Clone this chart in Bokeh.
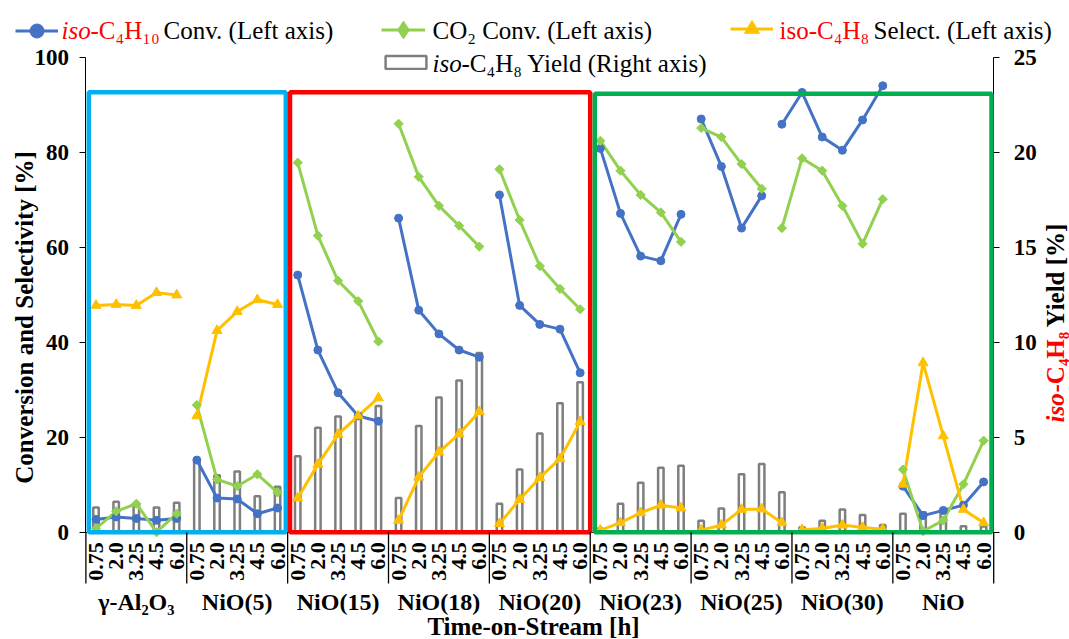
import math
from bokeh.plotting import figure
from bokeh.models import (Range1d, LinearAxis, FixedTicker, Label, BoxAnnotation,
                          Arrow, Legend, LegendItem)
from bokeh.embed import file_html
from bokeh.resources import INLINE

# ---------------- data ----------------
groups = ["γ-Al₂O₃", "NiO(5)", "NiO(15)", "NiO(18)", "NiO(20)",
          "NiO(23)", "NiO(25)", "NiO(30)", "NiO"]
times = ["0.75", "2.0", "3.25", "4.5", "6.0"]

conv_c4h10 = [2.7, 3.2, 2.9, 2.5, 2.9,
              15.2, 7.2, 7.0, 3.9, 5.1,
              54.2, 38.4, 29.4, 24.5, 23.4,
              66.2, 46.8, 41.8, 38.4, 36.9,
              71.1, 47.8, 43.8, 42.8, 33.6,
              80.9, 67.2, 58.2, 57.2, 67.0,
              87.1, 77.1, 64.1, 70.9, 86.0,
              92.7, 83.3, 80.5, 86.9, 94.1,
              9.7, 3.5, 4.6, 5.7, 10.6]
conv_co2 = [0.8, 4.4, 6.0, 0.0, 3.9,
            26.8, 11.1, 9.7, 12.2, 8.4,
            77.9, 62.5, 53.0, 48.7, 40.2,
            86.1, 74.9, 68.8, 64.6, 60.2,
            76.5, 65.8, 56.1, 51.3, 47.0,
            82.5, 76.2, 71.1, 67.4, 61.2,
            85.2, 83.3, 77.6, 72.4, 64.1,
            78.8, 76.2, 68.8, 60.8, 70.2,
            13.2, 0.2, 2.5, 10.1, 19.3]
select_c4h8 = [47.8, 48.0, 47.8, 50.5, 50.0,
               24.5, 42.5, 46.5, 49.0, 48.0,
               7.2, 14.3, 20.6, 24.5, 28.3,
               2.5, 11.6, 16.9, 20.7, 25.4,
               1.8, 6.9, 11.5, 15.5, 23.3,
               0.4, 2.0, 4.1, 5.7, 5.1,
               0.4, 1.5, 4.8, 4.9, 2.0,
               0.5, 0.8, 1.5, 1.0, 0.6,
               10.1, 35.7, 20.3, 4.8, 2.0]
yield_c4h8 = [1.3, 1.6, 1.5, 1.3, 1.55,
              3.75, 3.0, 3.2, 1.9, 2.4,
              4.0, 5.5, 6.1, 6.2, 6.65,
              1.8, 5.6, 7.1, 8.0, 9.45,
              1.5, 3.3, 5.2, 6.8, 7.9,
              0.2, 1.5, 2.6, 3.4, 3.5,
              0.6, 1.25, 3.05, 3.6, 2.1,
              0.26, 0.6, 1.2, 0.9, 0.38,
              0.97, 1.05, 1.1, 0.32, 0.3]

# connected runs of points (start, end) for each line series
conv_runs = [(0, 5), (5, 10), (10, 15), (15, 20), (20, 25), (25, 30), (30, 34), (34, 40), (40, 45)]
select_runs = [(0, 5), (5, 10), (10, 15), (15, 20), (20, 25), (25, 30), (30, 35), (35, 40), (40, 45)]

left_ticks = [0, 20, 40, 60, 80, 100]
right_ticks = [0, 5, 10, 15, 20, 25]
LEFT_MAX, RIGHT_MAX = 100, 25

# ---------------- styling ----------------
FONT = "Liberation Serif"
BLUE, GREEN, YELLOW, GREY, RED = "#4472C4", "#92D050", "#FFC000", "#7F7F7F", "#FF0000"
W, H = 1069, 639
FL, FR, FT, FB = 85.4, 993.2, 57.3, 531.7   # pixel positions of the plotting area edges

n = len(groups) * len(times)
xs = [i + 0.5 for i in range(n)]


def X(px):
    return (px - FL) / (FR - FL) * n


def Y(py):
    return (FB - py) / (FB - FT) * LEFT_MAX


# the frame covers the whole canvas; axes are pinned with fixed_location
p = figure(width=W, height=H, x_range=Range1d(X(0), X(W)), y_range=Range1d(Y(H), Y(0)),
           output_backend="svg", toolbar_location=None, title=None,
           min_border=0, min_border_left=0, min_border_right=0,
           min_border_top=0, min_border_bottom=0)
scale_r = RIGHT_MAX / LEFT_MAX
p.extra_y_ranges = {"yield": Range1d(Y(H) * scale_r, Y(0) * scale_r)}
p.grid.visible = False
p.outline_line_color = None
p.background_fill_color = "white"
p.border_fill_color = "white"

# x axis (time labels)
xa = p.xaxis[0]
xa.fixed_location = 0
xa.bounds = (0, n)
xa.ticker = FixedTicker(ticks=xs, minor_ticks=[])
xa.major_label_overrides = {x: times[i % len(times)] for i, x in enumerate(xs)}
xa.major_label_orientation = math.pi / 2
xa.major_tick_line_color = None
xa.minor_tick_line_color = None
xa.major_label_standoff = 4
xa.major_label_text_font = FONT
xa.major_label_text_font_size = "22px"
xa.major_label_text_font_style = "bold"
xa.major_label_text_color = "black"
xa.axis_line_color = "black"

# left axis
ya = p.yaxis[0]
ya.fixed_location = 0
ya.bounds = (0, LEFT_MAX)
ya.ticker = FixedTicker(ticks=left_ticks, minor_ticks=[])
ra = LinearAxis(y_range_name="yield", ticker=FixedTicker(ticks=right_ticks, minor_ticks=[]))
ra.fixed_location = n
ra.bounds = (0, RIGHT_MAX)
p.add_layout(ra, "right")
for ax, standoff in ((ya, 11), (ra, 14)):
    ax.major_tick_out = 6
    ax.major_tick_in = 0
    ax.minor_tick_line_color = None
    ax.major_label_standoff = standoff
    ax.major_label_text_font = FONT
    ax.major_label_text_font_size = "23px"
    ax.major_label_text_font_style = "bold"
    ax.major_label_text_color = "black"
    ax.axis_line_color = "black"
    ax.major_tick_line_color = "black"

# ---------------- glyphs ----------------
bars = p.vbar(x=xs, top=yield_c4h8, bottom=0, width=0.27, y_range_name="yield",
              fill_color="white", line_color=GREY, line_width=2.5)

first = {}
for name, vals, runs, color in (("conv", conv_c4h10, conv_runs, BLUE),
                                ("co2", conv_co2, conv_runs, GREEN),
                                ("sel", select_c4h8, select_runs, YELLOW)):
    for a, b in runs:
        r = p.line(x=xs[a:b], y=vals[a:b], line_color=color, line_width=3)
        first.setdefault(name, r)

s_conv = p.scatter(x=xs, y=conv_c4h10, marker="circle", size=8, color=BLUE)
s_co2 = p.scatter(x=xs, y=conv_co2, marker="square", angle=math.pi / 4, size=6.5, color=GREEN)
s_sel = p.scatter(x=xs, y=select_c4h8, marker="triangle", size=10, color=YELLOW)
# legend swatch for CO2 (legends draw markers unrotated, so use a diamond marker there)
s_co2_key = p.scatter(x=xs, y=conv_co2, marker="diamond", size=10, color=GREEN, visible=False)

# ---------------- coloured frames ----------------
for (l, r, t, c) in ((88.3, 285.3, 91.7, "#00B0F0"),
                     (289.5, 589.7, 91.7, RED),
                     (594.3, 991.0, 93.2, "#00B050")):
    p.add_layout(BoxAnnotation(left=X(l), right=X(r), top=Y(t), bottom=0,
                               fill_color=None, fill_alpha=0,
                               line_color=c, line_alpha=1.0, line_width=4.5))

# group separators below the axis
for k in range(len(groups) + 1):
    gx = k * len(times)
    p.add_layout(Arrow(end=None, start=None, x_start=gx, y_start=0, x_end=gx, y_end=Y(583),
                       line_color="black", line_width=1.3))


# ---------------- texts ----------------
def txt(s, px, py, size, color="black", style="normal", align="left", angle=0.0):
    p.add_layout(Label(x=X(px), y=Y(py), text=s, text_font=FONT, text_font_size=f"{size}px",
                       text_color=color, text_font_style=style, text_align=align,
                       text_baseline="middle", angle=angle))


for gi, g in enumerate(groups):
    gc = FL + (gi + 0.5) * len(times) * (FR - FL) / n
    txt(g, gc, 601, 24, style="bold", align="center")

txt("Time-on-Stream [h]", 533, 626, 25, style="bold", align="center")
txt("Conversion and Selectivity [%]", 24, 317, 25, style="bold", align="center", angle=math.pi / 2)
txt("iso", 1055, 422, 25, color=RED, style="bold italic", angle=math.pi / 2)
txt("-C₄H₈", 1055, 392, 25, color=RED, style="bold", angle=math.pi / 2)
txt("Yield [%]", 1055, 327, 25, style="bold", angle=math.pi / 2)

# legend texts
txt("iso", 61, 30, 25, color=RED, style="italic")
txt("-C₄H₁₀", 90, 30, 25, color=RED)
txt("Conv. (Left axis)", 163, 30, 25)
txt("CO₂ Conv. (Left axis)", 432, 30, 25)
txt("iso-C₄H₈", 779, 30, 25, color=RED)
txt("Select. (Left axis)", 873, 30, 25)
txt("iso", 432, 63, 25, style="italic")
txt("-C₄H₈ Yield (Right axis)", 461, 63, 25)


# legend icons
def icon(renderers, left, cy, gw, gh):
    lg = Legend(items=[LegendItem(label=" ", renderers=renderers)],
                location=(left, H - (cy + gh / 2)),
                glyph_width=gw, glyph_height=gh, label_height=gh, label_width=1,
                padding=0, margin=0, spacing=0, label_standoff=0,
                background_fill_alpha=0, border_line_alpha=0,
                inactive_fill_alpha=0,
                label_text_font_size="1px")
    p.add_layout(lg, "center")


icon([first["conv"], s_conv], 15, 30, 43, 35)
icon([first["co2"], s_co2_key], 381, 29, 44, 45)
icon([first["sel"], s_sel], 730, 28, 43, 37)
icon([bars], 380, 61.5, 51, 16)

open("out.html", "w").write(file_html(p, INLINE, title="chart"))
